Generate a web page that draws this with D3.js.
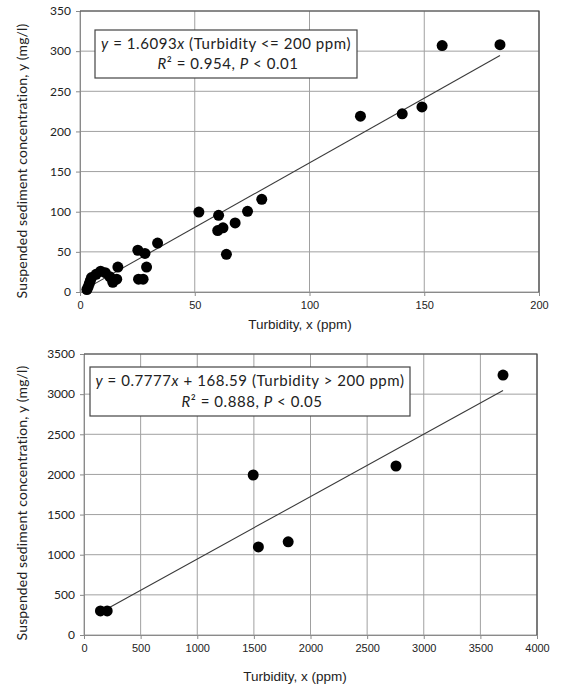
<!DOCTYPE html>
<html>
<head>
<meta charset="utf-8">
<script src="https://cdn.jsdelivr.net/npm/d3@7"></script>
<style>
  body { margin: 0; background: #fff; }
  svg { display: block; }
  .tick text { font-family: "Liberation Sans", Arial, sans-serif; font-size: 11px; fill: #222; }
  .lbl { font-family: Lato, "Open Sans", sans-serif; fill: #222; }
</style>
</head>
<body>
<script>
// turbidity <= 200 ppm  (x = turbidity ppm, y = SSC mg/l)
const lowTurb = [3, 3.5, 4, 4.5, 5, 7, 9, 11, 13, 14.3, 16, 16.5, 25.5, 27.5, 29, 25.2, 28.3, 33.8,
  51.8, 60.4, 60, 62.3, 67.6, 73, 79.2, 63.8, 122.2, 140.4, 149, 157.8, 183];
const lowSSC  = [3, 6, 10, 14, 18, 22, 26, 24, 19, 12, 16, 31, 16, 16, 31, 52, 48, 61,
  99.6, 95.5, 76.5, 80, 86, 100.5, 115.5, 47, 219, 222, 230.5, 307, 308];

// turbidity > 200 ppm
const highTurb = [145, 205, 1494, 1540, 1803, 2755, 3700];
const highSSC  = [300, 300, 1993, 1097, 1160, 2105, 3238];

const lowTicksX = [0, 50, 100, 150, 200];
const lowTicksY = [0, 50, 100, 150, 200, 250, 300, 350];
const highTicksX = [0, 500, 1000, 1500, 2000, 2500, 3000, 3500, 4000];
const highTicksY = [0, 500, 1000, 1500, 2000, 2500, 3000, 3500];

const xTitle = "Turbidity, x (ppm)";
const yTitle = "Suspended sediment concentration, y (mg/l)";

const svg = d3.select("body").append("svg").attr("width", 561).attr("height", 688);
svg.append("rect").attr("width", 561).attr("height", 688).attr("fill", "#fff");

function panel(o) {
  const x = d3.scaleLinear().domain(o.xDom).range([o.left, o.right]);
  const y = d3.scaleLinear().domain(o.yDom).range([o.bottom, o.top]);
  const g = svg.append("g");

  // grid
  g.selectAll(".gx").data(o.ticksX).join("line")
    .attr("x1", d => x(d)).attr("x2", d => x(d)).attr("y1", o.top).attr("y2", o.bottom)
    .attr("stroke", "#a0a0a0").attr("stroke-width", 1);
  g.selectAll(".gy").data(o.ticksY).join("line")
    .attr("y1", d => y(d)).attr("y2", d => y(d)).attr("x1", o.left).attr("x2", o.right)
    .attr("stroke", "#a0a0a0").attr("stroke-width", 1);

  // axes
  const ax = g.append("g").attr("transform", "translate(0," + o.bottom + ")")
    .call(d3.axisBottom(x).tickValues(o.ticksX).tickSize(4).tickPadding(5).tickFormat(d3.format("d")));
  ax.select(".domain").attr("stroke", "#8a8a8a");
  ax.selectAll(".tick line").attr("stroke", "#8a8a8a");
  const ay = g.append("g").attr("transform", "translate(" + o.left + ",0)")
    .call(d3.axisLeft(y).tickValues(o.ticksY).tickSize(4).tickPadding(5).tickFormat(d3.format("d")));
  ay.select(".domain").attr("stroke", "#8a8a8a");
  ay.selectAll(".tick line").attr("stroke", "#8a8a8a");
  ay.selectAll(".tick text").style("font-family", "Lato, sans-serif").style("font-size", "12px");

  // frame top/right
  g.append("path").attr("d", `M${o.left},${o.top}H${o.right}V${o.bottom}`)
    .attr("fill", "none").attr("stroke", "#444").attr("stroke-width", 1.2);

  // trend line
  const xs = d3.extent(o.xs);
  g.append("line")
    .attr("x1", x(xs[0])).attr("y1", y(o.fit(xs[0])))
    .attr("x2", x(xs[1])).attr("y2", y(o.fit(xs[1])))
    .attr("stroke", "#3a3a3a").attr("stroke-width", 1.1);

  // points
  g.selectAll("circle").data(o.xs).join("circle")
    .attr("cx", d => x(d)).attr("cy", (d, i) => y(o.ys[i]))
    .attr("r", 5.5).attr("fill", "#000");

  // legend box
  g.append("rect").attr("x", o.box[0]).attr("y", o.box[1]).attr("width", o.box[2]).attr("height", o.box[3])
    .attr("fill", "#fff").attr("stroke", "#444").attr("stroke-width", 1.2);
  const cx = o.box[0] + o.box[2] / 2;
  const t1 = g.append("text").attr("class", "lbl").attr("x", cx).attr("y", o.box[1] + o.box[3] * 0.39)
    .attr("text-anchor", "middle").attr("font-size", 15).attr("letter-spacing", 0.55);
  o.line1.forEach(s => t1.append("tspan").attr("font-style", s[1] ? "italic" : null).text(s[0]));
  const t2 = g.append("text").attr("class", "lbl").attr("x", cx + 2).attr("y", o.box[1] + o.box[3] * 0.81)
    .attr("text-anchor", "middle").attr("font-size", 15).attr("letter-spacing", 0.55);
  o.line2.forEach(s => t2.append("tspan").attr("font-style", s[1] ? "italic" : null).text(s[0]));

  // axis titles
  g.append("text").attr("x", o.xTitleX).attr("y", o.xTitleY)
    .attr("text-anchor", "middle").attr("font-family", "Liberation Sans, Arial, sans-serif")
    .attr("font-size", 13.5).attr("fill", "#222").text(xTitle);
  g.append("text").attr("class", "lbl").attr("transform", `translate(27,${o.yTitleMid}) rotate(-90)`)
    .attr("text-anchor", "middle").attr("font-size", 14).attr("letter-spacing", 0.15).text(yTitle);
}

panel({
  xDom: [0, 200], yDom: [0, 350], left: 80, right: 539, top: 11, bottom: 292,
  ticksX: lowTicksX, ticksY: lowTicksY, xs: lowTurb, ys: lowSSC,
  fit: v => 1.6093 * v,
  box: [95, 30, 262, 48],
  line1: [["y", 1], [" = 1.6093", 0], ["x", 1], [" (Turbidity <= 200 ppm)", 0]],
  line2: [["R", 1], ["\u00b2 = 0.954, ", 0], ["P", 1], [" < 0.01", 0]],
  xTitleX: 300, xTitleY: 329, yTitleMid: 161
});

panel({
  xDom: [0, 4000], yDom: [0, 3500], left: 84, right: 537, top: 354, bottom: 635,
  ticksX: highTicksX, ticksY: highTicksY, xs: highTurb, ys: highSSC,
  fit: v => 0.7777 * v + 168.59,
  box: [90, 367, 320, 49],
  line1: [["y", 1], [" = 0.7777", 0], ["x", 1], [" + 168.59 (Turbidity > 200 ppm)", 0]],
  line2: [["R", 1], ["\u00b2 = 0.888, ", 0], ["P", 1], [" < 0.05", 0]],
  xTitleX: 295, xTitleY: 681, yTitleMid: 503
});
</script>
</body>
</html>
